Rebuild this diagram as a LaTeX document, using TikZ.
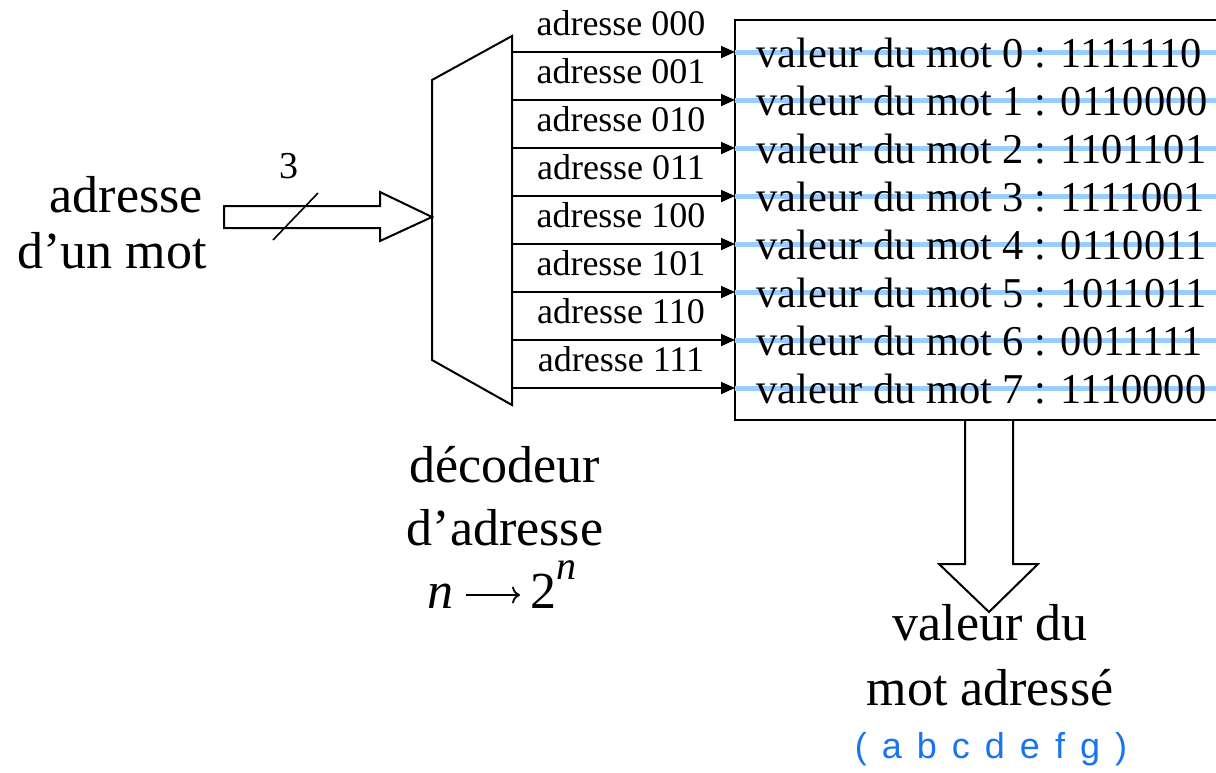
\documentclass[tikz,border=0pt]{standalone}
\usepackage{fontspec}
\setmainfont{Liberation Serif}
\newfontfamily\labelsans{Liberation Sans}
\usetikzlibrary{arrows.meta}
\definecolor{wordline}{RGB}{153,204,255}
\definecolor{bitblue}{RGB}{26,115,240}

\begin{document}
\begin{tikzpicture}[x=1pt,y=-1pt,
  outline/.style={line width=2pt, line join=miter},
  wire/.style={line width=2pt, -{Triangle[length=14pt,width=12pt]}},
  stripe/.style={line width=5pt, wordline},
  addrlabel/.style={inner sep=0pt, anchor=base, font=\fontsize{36}{36}\selectfont},
  wordlabel/.style={inner sep=0pt, anchor=base west, font=\fontsize{42.5}{42.5}\selectfont},
  biglabel/.style={inner sep=0pt, font=\fontsize{52}{52}\selectfont},
  fatarrow/.style={line width=2pt, line join=miter, fill=white}]
\clip (0,0) rectangle (1216,772);

% address decoder (trapezoid)
\draw[outline] (432,80) -- (512,36) -- (512,405) -- (432,360) -- cycle;

% memory array: box open on the right
\draw[outline] (1230,20) -- (735,20) -- (735,420) -- (1230,420);

% word lines, select wires and labels
\foreach \i/\addr/\val in {0/000/1111110, 1/001/0110000, 2/010/1101101, 3/011/1111001,
                           4/100/0110011, 5/101/1011011, 6/110/0011111, 7/111/1110000} {
  \pgfmathsetmacro{\yy}{52+48*\i}
  \coordinate (o\i) at (512,\yy);
  \coordinate (i\i) at (735,\yy);
  \coordinate (e\i) at (1230,\yy);
  \draw[stripe] (i\i) -- (e\i);
  \node[wordlabel] (w\i) at (756,\yy+15) {valeur du mot \i\ : \val};
  \draw[wire] (o\i) -- (i\i);
  \node[addrlabel] (a\i) at (621,\yy-17) {adresse \addr};
}

% address input bus
\draw[fatarrow] (224,206) -- (380,206) -- (380,192) -- (432,217) -- (380,241)
  -- (380,228) -- (224,228) -- cycle;
\coordinate (s1) at (273,240);
\coordinate (s2) at (318,193);
\draw[line width=1.6pt] (s1) -- (s2);
\node[inner sep=0pt, anchor=base, font=\fontsize{38}{38}\selectfont] (width) at (289,178) {3};
\node[biglabel, anchor=base east] (in1) at (203,212) {adresse};
\node[biglabel, anchor=base east] (in2) at (207,268) {d’un mot};

% decoder caption
\node[biglabel, anchor=base] (dec1) at (505,482) {décodeur};
\node[biglabel, anchor=base] (dec2) at (505,545) {d’adresse};
\node[biglabel, anchor=base west] (nin) at (427,608) {\textit{n}};
\node[biglabel, anchor=base west] (nout) at (530,608)
  {2\raisebox{29pt}{\fontsize{40}{40}\selectfont\textit{n}}};
\coordinate (ar1) at (466,595);
\coordinate (ar2) at (520,595);
\draw[line width=1.8pt, -{Computer Modern Rightarrow[length=8pt,width=17pt,line width=1.8pt]}] (ar1) -- (ar2);

% output bus
\draw[fatarrow] (965,421) -- (965,564) -- (939,564) -- (989,612) -- (1038,564)
  -- (1013,564) -- (1013,421);
\node[biglabel, anchor=base] (out1) at (990,640) {valeur du};
\node[biglabel, anchor=base] (out2) at (990,705) {mot adressé};
\node[inner sep=0pt, anchor=base, text=bitblue,
      font=\labelsans\fontsize{36}{36}\selectfont] (bits) at (991,758)
  {\spaceskip=15pt ( a b c d e f g )};
\end{tikzpicture}
\end{document}
